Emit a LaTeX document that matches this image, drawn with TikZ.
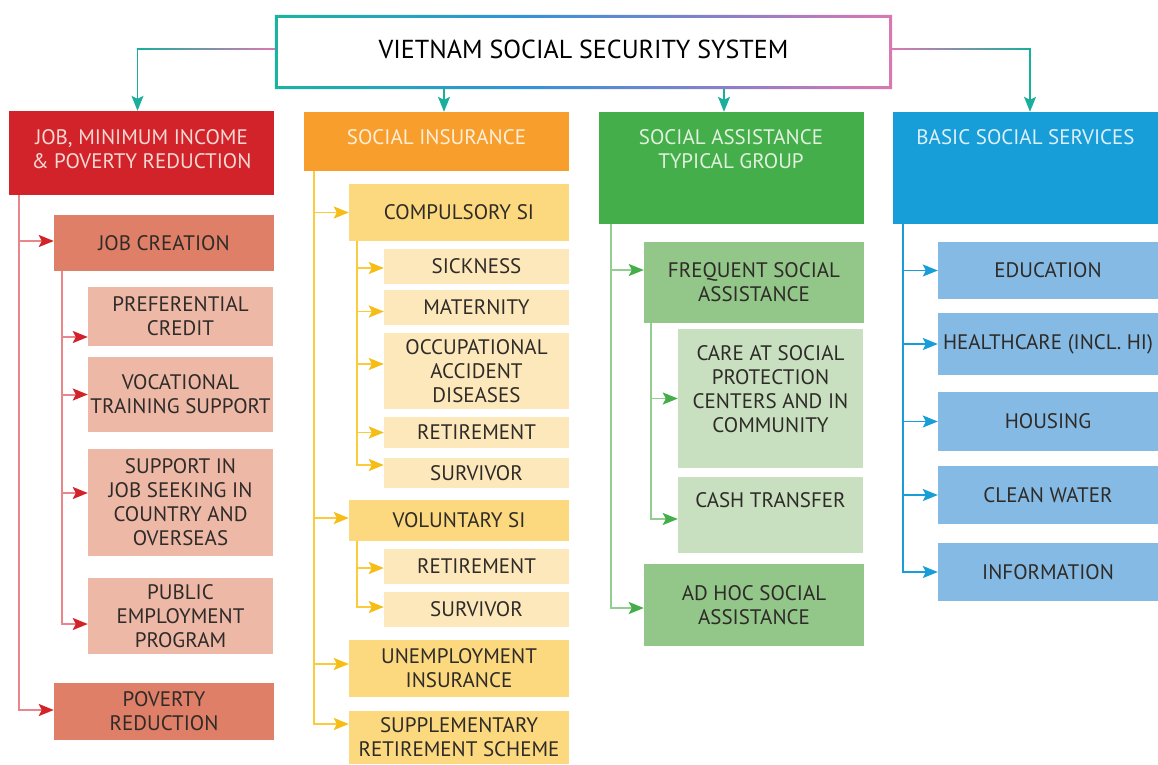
\documentclass[tikz,border=0pt]{standalone}
\usepackage{fontspec}
\setmainfont{PT Sans}
\usetikzlibrary{arrows.meta}

\definecolor{txtgray}{HTML}{2E2B28}
\definecolor{framegreen}{HTML}{1BB3A0}
\definecolor{frameblue}{HTML}{3393D8}
\definecolor{framepurple}{HTML}{8E7FC6}
\definecolor{framepink}{HTML}{DA78B2}
\definecolor{tealarr}{HTML}{1AAE9C}
% red column
\definecolor{jobred}{HTML}{D2232A}
\definecolor{jobmid}{HTML}{E07F68}
\definecolor{joblight}{HTML}{EEB8A7}
\definecolor{jobline}{HTML}{E8868C}
\definecolor{jobtxt}{HTML}{F8D8D3}
% orange column
\definecolor{siorange}{HTML}{F89E2D}
\definecolor{simid}{HTML}{FCD97F}
\definecolor{silight}{HTML}{FDE8BB}
\definecolor{siline}{HTML}{FBCB3C}
\definecolor{siarr}{HTML}{F6BD16}
\definecolor{sitxt}{HTML}{FFEFD8}
% green column
\definecolor{sagreen}{HTML}{43AE4A}
\definecolor{samid}{HTML}{93C689}
\definecolor{salight}{HTML}{C8E0C0}
\definecolor{saline}{HTML}{93CD92}
\definecolor{satxt}{HTML}{E2F1DE}
% blue column
\definecolor{bssblue}{HTML}{179DD8}
\definecolor{bssmid}{HTML}{85BAE4}
\definecolor{bsstxt}{HTML}{DDF0FA}

\pgfdeclarehorizontalshading{frameshade}{100bp}{color(0bp)=(framegreen); color(25bp)=(framegreen); color(45bp)=(frameblue); color(62bp)=(framepurple); color(75bp)=(framepink); color(100bp)=(framepink)}

\newcommand\boxsize{\fontsize{21}{24}\selectfont}
\newcommand\titlesize{\fontsize{26}{30}\selectfont}

\tikzset{
  box/.style={inner sep=0pt, align=center, text=txtgray, font=\boxsize},
  hdbox/.style={box, minimum width=265, minimum height=#1},
  midbox/.style={box, minimum width=220, minimum height=#1},
  lowbox/.style={box, minimum width=185, minimum height=#1},
  hdtext/.style={inner sep=0pt, align=center, font=\boxsize},
  tip/.style={-{Stealth[length=15pt, width=12pt, inset=3pt, color=#1]}},
  toparr/.style={draw=tealarr, line width=1.2pt, tip=tealarr},
  jobarr/.style={draw=jobline, line width=2pt, tip=jobred},
  siarrow/.style={draw=siline, line width=1.8pt, tip=siarr},
  saarr/.style={draw=saline, line width=1.8pt, tip=sagreen},
  bssarr/.style={draw=bssblue, line width=1.5pt, tip=bssblue}
}

\begin{document}
\begin{tikzpicture}[x=1pt, y=-1pt]
\useasboundingbox (0,0) rectangle (1158,764);

% top
\node[inner sep=0pt, minimum width=617, minimum height=74] (title) at (583.5,52) {};
\shade[shading=frameshade, even odd rule] (title.north west) rectangle (title.south east)
  ([shift={(3,3)}]title.north west) rectangle ([shift={(-3,-3)}]title.south east);
\node[inner sep=0pt, font=\titlesize, text=black] (titletxt) at (583.5,49) {VIETNAM SOCIAL SECURITY SYSTEM};

% headers
\node[hdbox=84, fill=jobred] (hdjob) at (141.5,153) {};
\node[hdtext, text=jobtxt] (hdjobtxt) at (141.5,149) {JOB, MINIMUM INCOME\\\& POVERTY REDUCTION};
\node[hdbox=59, fill=siorange] (hdsi) at (436.5,141.5) {};
\node[hdtext, text=sitxt] (hdsitxt) at (436.5,137) {SOCIAL INSURANCE};
\node[hdbox=112, fill=sagreen] (hdsa) at (731,168) {};
\node[hdtext, text=satxt] (hdsatxt) at (731,149) {SOCIAL ASSISTANCE\\TYPICAL GROUP};
\node[hdbox=112, fill=bssblue] (hdbss) at (1025.5,168) {};
\node[hdtext, text=bsstxt] (hdbsstxt) at (1025.5,137) {BASIC SOCIAL SERVICES};

\draw[toparr] ([yshift=3pt]title.west) -| ([xshift=-4pt]hdjob.north);
\draw[toparr] ([xshift=7.5pt]hdsi.north |- title.south) -- ([xshift=7.5pt]hdsi.north);
\draw[toparr] ([xshift=-7pt]hdsa.north |- title.south) -- ([xshift=-7pt]hdsa.north);
\draw[toparr] ([yshift=3pt]title.east) -| ([xshift=4.5pt]hdbss.north);
% colour run on the two side lines
\shade[left color=tealarr, middle color=frameblue, right color=framepink]
  ([xshift=-4.6pt, yshift=3.6pt]hdjob.north |- title.west) rectangle ([yshift=2.4pt]title.west);
\shade[left color=framepink, middle color=frameblue, right color=tealarr]
  ([yshift=3.6pt]title.east) rectangle ([xshift=5.1pt, yshift=2.4pt]hdbss.north |- title.east);

% job, minimum income & poverty reduction
\node[midbox=56, fill=jobmid] (jobcre) at (164,243) {JOB CREATION};
\node[lowbox=59, fill=joblight] (credit) at (180.5,316.5) {PREFERENTIAL\\CREDIT};
\node[lowbox=75, fill=joblight] (vocat) at (180.5,394.5) {VOCATIONAL\\TRAINING SUPPORT};
\node[lowbox=107, fill=joblight] (seek) at (180.5,502.5) {SUPPORT IN\\JOB SEEKING IN\\COUNTRY AND\\OVERSEAS};
\node[lowbox=76, fill=joblight] (pubemp) at (180.5,616) {PUBLIC\\EMPLOYMENT\\PROGRAM};
\node[midbox=57, fill=jobmid] (poverty) at (164,711.5) {POVERTY\\REDUCTION};

\draw[jobarr] ([xshift=10pt]hdjob.south west) |- ([yshift=2pt]jobcre.west);
\draw[jobarr] ([xshift=10pt]hdjob.south west) |- ([yshift=1.5pt]poverty.west);
\draw[jobarr] ([xshift=8pt]jobcre.south west) |- ([yshift=-20.5pt]credit.west);
\draw[jobarr] ([xshift=8pt]jobcre.south west) |- (vocat.west);
\draw[jobarr] ([xshift=8pt]jobcre.south west) |- ([yshift=9.5pt]seek.west);
\draw[jobarr] ([xshift=8pt]jobcre.south west) |- ([yshift=-8pt]pubemp.west);

% social insurance
\node[midbox=57, fill=simid] (comp) at (459,212.5) {COMPULSORY SI};
\node[lowbox=35, fill=silight] (sick) at (476.5,266.5) {SICKNESS};
\node[lowbox=35, fill=silight] (mater) at (476.5,307.5) {MATERNITY};
\node[lowbox=76, fill=silight] (occup) at (476.5,371) {OCCUPATIONAL\\ACCIDENT\\DISEASES};
\node[lowbox=31, fill=silight] (retire) at (476.5,432.5) {RETIREMENT};
\node[lowbox=30, fill=silight] (surv) at (476.5,473) {SURVIVOR};
\node[midbox=41, fill=simid] (volun) at (459,520.5) {VOLUNTARY SI};
\node[lowbox=35, fill=silight] (volretire) at (476.5,566.5) {RETIREMENT};
\node[lowbox=35, fill=silight] (volsurv) at (476.5,609.5) {SURVIVOR};
\node[midbox=57, fill=simid] (unemp) at (459,668.5) {UNEMPLOYMENT\\INSURANCE};
\node[midbox=53, fill=simid] (suppl) at (459,737.5) {SUPPLEMENTARY\\RETIREMENT SCHEME};

\draw[siarrow] ([xshift=10pt]hdsi.south west) |- (comp.west);
\draw[siarrow] ([xshift=10pt]hdsi.south west) |- ([yshift=2.5pt]volun.west);
\draw[siarrow] ([xshift=10pt]hdsi.south west) |- ([yshift=4.5pt]unemp.west);
\draw[siarrow] ([xshift=10pt]hdsi.south west) |- ([yshift=13.5pt]suppl.west);
\draw[siarrow] ([xshift=8pt]comp.south west) |- ([yshift=-1.5pt]sick.west);
\draw[siarrow] ([xshift=8pt]comp.south west) |- ([yshift=-4pt]mater.west);
\draw[siarrow] ([xshift=8pt]comp.south west) |- ([yshift=7pt]occup.west);
\draw[siarrow] ([xshift=8pt]comp.south west) |- (retire.west);
\draw[siarrow] ([xshift=8pt]comp.south west) |- ([yshift=8pt]surv.west);
\draw[siarrow] ([xshift=8pt]volun.south west) |- ([yshift=-1.5pt]volretire.west);
\draw[siarrow] ([xshift=8pt]volun.south west) |- ([yshift=2.5pt]volsurv.west);

% social assistance
\node[midbox=81, fill=samid] (freq) at (754,282.5) {FREQUENT SOCIAL\\ASSISTANCE};
\node[lowbox=139, fill=salight] (care) at (770.5,398.5) {};
\node[hdtext, text=txtgray] (caretxt) at (770.5,389) {CARE AT SOCIAL\\PROTECTION\\CENTERS AND IN\\COMMUNITY};
\node[lowbox=76, fill=salight] (cash) at (770.5,515) {};
\node[hdtext, text=txtgray] (cashtxt) at (770.5,500) {CASH TRANSFER};
\node[midbox=82, fill=samid] (adhoc) at (754,605) {AD HOC SOCIAL\\ASSISTANCE};

\draw[saarr] ([xshift=13pt]hdsa.south west) |- ([yshift=12.5pt]freq.west);
\draw[saarr] ([xshift=13pt]hdsa.south west) |- ([yshift=-3pt]adhoc.west);
\draw[saarr] ([xshift=7pt]freq.south west) |- (care.west);
\draw[saarr] ([xshift=7pt]freq.south west) |- ([yshift=-4pt]cash.west);

% basic social services
\node[midbox=57, fill=bssmid] (edu) at (1048,270.5) {EDUCATION};
\node[midbox=62, fill=bssmid] (health) at (1048,344) {HEALTHCARE (INCL. HI)};
\node[midbox=59, fill=bssmid] (housing) at (1048,421.5) {HOUSING};
\node[midbox=58, fill=bssmid] (water) at (1048,495) {CLEAN WATER};
\node[midbox=58, fill=bssmid] (info) at (1048,572) {INFORMATION};

\foreach \n in {edu,health,housing,water,info}
  \draw[bssarr] ([xshift=10pt]hdbss.south west) |- (\n.west);

\end{tikzpicture}
\end{document}
